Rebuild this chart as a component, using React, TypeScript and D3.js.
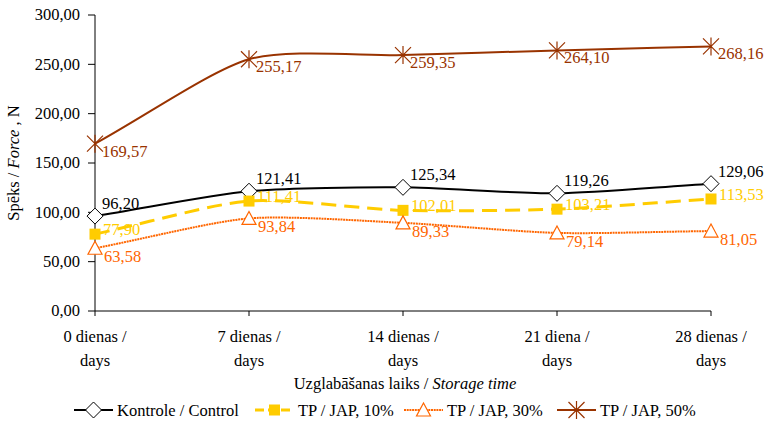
import * as d3 from "d3";

const categories = ["0 dienas /|days", "7 dienas /|days", "14 dienas /|days", "21 diena /|days", "28 dienas /|days"];
const yTicks = [0, 50, 100, 150, 200, 250, 300];

const kontrole = [96.2, 121.41, 125.34, 119.26, 129.06];
const jap10 = [77.9, 111.41, 102.01, 103.21, 113.53];
const jap30 = [63.58, 93.84, 89.33, 79.14, 81.05];
const jap50 = [169.57, 255.17, 259.35, 264.1, 268.16];

const seriesNames = ["Kontrole / Control", "TP / JAP, 10%", "TP / JAP, 30%", "TP / JAP, 50%"];

type MarkerKind = "diamond" | "square" | "triangle" | "star";

type Series = {
  name: string;
  values: number[];
  color: string;
  width: number;
  dash?: string;
  legendDash?: string;
  marker: MarkerKind;
  dx: number;
  dy: number;
};

const series: Series[] = [
  { name: seriesNames[0], values: kontrole, color: "#000000", width: 2, marker: "diamond", dx: 7, dy: -7 },
  { name: seriesNames[1], values: jap10, color: "#FFCC00", width: 3, dash: "15,8", legendDash: "9,4", marker: "square", dx: 8, dy: 1 },
  { name: seriesNames[2], values: jap30, color: "#FF6600", width: 2, dash: "2,0.7", legendDash: "2,0.7", marker: "triangle", dx: 9, dy: 14 },
  { name: seriesNames[3], values: jap50, color: "#993300", width: 2, marker: "star", dx: 7, dy: 13 },
];

const W = 767;
const H = 421;
const font = "Liberation Serif";
const txt = { fontFamily: font, fontSize: 16.5 };

const fmt = (v: number) => d3.format(".2f")(v).replace(".", ",");

const x = d3.scalePoint<string>().domain(categories).range([95, 711]);
const y = d3.scaleLinear().domain([0, 300]).range([311, 15]);

// Excel-style smoothed line: chord tangents at the ends, damped Catmull-Rom inside
const smooth = (values: number[]) => {
  const pts = values.map((v, i) => [x(categories[i]) as number, y(v)]);
  const n = pts.length;
  const k = 0.36;
  const tan = pts.map((p, i) => {
    if (i === 0) return [pts[1][0] - p[0], pts[1][1] - p[1]];
    if (i === n - 1) return [p[0] - pts[i - 1][0], p[1] - pts[i - 1][1]];
    return [k * (pts[i + 1][0] - pts[i - 1][0]), k * (pts[i + 1][1] - pts[i - 1][1])];
  });
  const path = d3.path();
  path.moveTo(pts[0][0], pts[0][1]);
  for (let i = 0; i < n - 1; i++) {
    const a = pts[i];
    const b = pts[i + 1];
    path.bezierCurveTo(
      a[0] + tan[i][0] / 3,
      a[1] + tan[i][1] / 3,
      b[0] - tan[i + 1][0] / 3,
      b[1] - tan[i + 1][1] / 3,
      b[0],
      b[1]
    );
  }
  return path.toString();
};

const Marker = ({ s, cx, cy }: { s: Series; cx: number; cy: number }) => {
  if (s.marker === "diamond") {
    return (
      <path
        d={`M${cx},${cy - 8}L${cx + 8},${cy}L${cx},${cy + 8}L${cx - 8},${cy}Z`}
        fill="#fff"
        stroke="#000"
        strokeWidth={1}
      />
    );
  }
  if (s.marker === "square") {
    return <rect x={cx - 5.5} y={cy - 5.5} width={11} height={11} fill={s.color} />;
  }
  if (s.marker === "triangle") {
    return (
      <path
        d={`M${cx},${cy - 7}L${cx + 7},${cy + 6}L${cx - 7},${cy + 6}Z`}
        fill="#fff"
        stroke={s.color}
        strokeWidth={1.2}
      />
    );
  }
  return (
    <path
      d={`M${cx - 8},${cy - 8}L${cx + 8},${cy + 8}M${cx + 8},${cy - 8}L${cx - 8},${cy + 8}M${cx},${cy - 9}L${cx},${cy + 9}`}
      fill="none"
      stroke={s.color}
      strokeWidth={1.2}
    />
  );
};

const legendX = [74, 255, 404, 557];
const legendY = 410;

const App = () => {
  const [y0, y1] = y.range();
  return (
    <svg width={W} height={H} style={{ position: "absolute", left: 0, top: 0, background: "#fff" }}>
      {/* y axis */}
      <line x1={95} x2={95} y1={y1} y2={y0} stroke="#000" />
      {yTicks.map((t) => (
        <g key={t} transform={`translate(95,${y(t)})`}>
          <line x1={-7} x2={0} stroke="#000" />
          <text x={-15} dy="0.32em" textAnchor="end" style={txt}>
            {fmt(t)}
          </text>
        </g>
      ))}

      {/* x axis */}
      <line x1={x.range()[0]} x2={x.range()[1]} y1={y0} y2={y0} stroke="#000" />
      {categories.map((c) => (
        <g key={c} transform={`translate(${x(c)},${y0})`}>
          <line y1={0} y2={5} stroke="#000" />
          {c.split("|").map((l, i) => (
            <text key={i} y={31 + i * 24} textAnchor="middle" style={txt}>
              {l}
            </text>
          ))}
        </g>
      ))}

      {/* axis titles */}
      <text x={405} y={389} textAnchor="middle" style={txt}>
        Uzglabāšanas laiks / <tspan fontStyle="italic">Storage time</tspan>
      </text>
      <text transform="translate(19,163) rotate(-90)" textAnchor="middle" style={txt}>
        Spēks / <tspan fontStyle="italic">Force</tspan> , N
      </text>

      {/* series */}
      {series.map((s) => (
        <g key={s.name}>
          <path d={smooth(s.values)} fill="none" stroke={s.color} strokeWidth={s.width} strokeDasharray={s.dash} />
          {s.values.map((v, i) => (
            <Marker key={i} s={s} cx={x(categories[i]) as number} cy={y(v)} />
          ))}
        </g>
      ))}

      {/* data labels */}
      {series.map((s) => (
        <g key={s.name + "-labels"}>
          {s.values.map((v, i) => (
            <text key={i} x={(x(categories[i]) as number) + s.dx} y={y(v) + s.dy} fill={s.color} style={txt}>
              {fmt(v)}
            </text>
          ))}
        </g>
      ))}

      {/* legend */}
      {series.map((s, i) => {
        const x0 = legendX[i];
        return (
          <g key={s.name + "-legend"}>
            <line
              x1={x0}
              x2={x0 + 39}
              y1={legendY}
              y2={legendY}
              stroke={s.color}
              strokeWidth={s.width}
              strokeDasharray={s.legendDash}
            />
            <Marker s={s} cx={x0 + 19.5} cy={legendY} />
            <text x={x0 + 43} y={legendY + 5.5} style={txt}>
              {s.name}
            </text>
          </g>
        );
      })}
    </svg>
  );
};

export default App;
